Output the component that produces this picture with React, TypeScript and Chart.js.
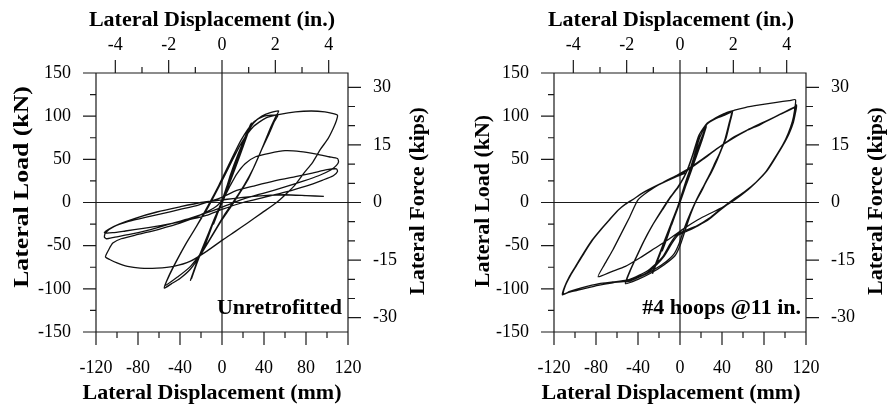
import React, { useEffect, useRef } from 'react';
import { Chart, registerables } from 'chart.js';

Chart.register(...registerables);

// ---- tick values ----
const MM_TICKS = [-120, -80, -40, 0, 40, 80, 120];
const MM_MINOR = [-100, -60, -20, 20, 60, 100];
const IN_TICKS = [-4, -2, 0, 2, 4];
const IN_MINOR = [-3, -1, 1, 3];
const KN_TICKS = [-150, -100, -50, 0, 50, 100, 150];
const KN_MINOR = [-125, -75, -25, 25, 75, 125];
const KIP_TICKS = [-30, -15, 0, 15, 30];
const KIP_MINOR = [-25, -20, -10, -5, 5, 10, 20, 25];

// ---- Unretrofitted specimen: [displacement mm, load kN] ----
const unretElastic: number[][] = [[0,0],[4,14],[8,27],[5,17],[1,3],[-4,-12],[-8,-25],[-5,-15],[-1,-2],[5,18],[11,38],[17,58],[13,44],[7,22],[1,2],[-6,-16],[-12,-36],[-18,-56],[-14,-42],[-8,-22],[-2,-4],[6,22],[13,46],[20,68],[27,90],[23,76],[16,52],[9,28],[2,6],[-6,-16],[-14,-40],[-22,-64],[-29,-88],[-25,-74],[-18,-52],[-10,-28],[-3,-8],[5,20],[12,44],[20,70],[28,92],[24,78],[17,54],[9,28],[1,4],[-7,-18],[-15,-42],[-23,-66],[-30,-90],[-26,-76],[-19,-54],[-11,-30],[-4,-10],[2,8]];
const unretMid: number[][] = [[8,32],[15,55],[22,75],[30,92],[38,100],[46,104],[54,106],[51,99],[46,86],[40,68],[33,48],[25,27],[17,11],[8,-6],[0,-20],[-10,-40],[-20,-60],[-30,-77],[-40,-88],[-48,-94],[-55,-99],[-51,-86],[-44,-69],[-35,-49],[-25,-29],[-13,-3],[-3,20],[7,45],[18,72],[30,93],[40,100],[53,101],[50,94],[45,80],[38,62],[30,40],[21,20],[12,3],[3,-13],[-8,-35],[-18,-55],[-30,-74],[-42,-86],[-54,-96],[-50,-84],[-43,-67],[-34,-47],[-24,-27],[-13,-5],[-3,18],[7,42],[18,68],[30,88],[42,98],[55,102]];
const unretLarge: number[][] = [[70,105],[85,106],[98,105],[106,103],[110,101],[109,95],[106,86],[101,74],[94,62],[86,46],[78,34],[70,21],[62,11],[52,0],[38,-12],[24,-24],[12,-34],[1,-43],[-14,-56],[-30,-68],[-46,-74],[-62,-76],[-78,-76],[-90,-74],[-100,-70],[-107,-66],[-111,-63],
[-108,-55],[-104,-47],[-96,-42],[-80,-37],[-60,-31],[-40,-24],[-20,-14],[-6,-5],[2,6],[8,20],[14,33],[22,45],[32,53],[45,57],[60,60],[75,59],[90,56],[102,53],[110,51],[111,47],[109,43],
[104,38],[92,31],[78,25],[60,18],[40,11],[20,4],[5,-3],[-10,-10],[-30,-18],[-50,-25],[-70,-32],[-88,-37],[-102,-40],[-110,-42],[-112,-40],
[-111,-35],[-103,-28],[-89,-22],[-72,-17],[-57,-13],[-40,-8],[-25,-4],[-12,1],[0,6],[14,14],[30,19],[50,25],[70,30],[86,34],[100,38],[109,39],[110,36],
[106,31],[96,26],[80,19],[60,12],[40,6],[20,0],[0,-8],[-15,-15],[-35,-21],[-55,-26],[-75,-30],[-92,-33],[-104,-35],[-112,-35],
[-108,-31],[-98,-25],[-82,-18],[-62,-11],[-40,-5],[-20,0],[0,3],[20,6],[40,8],[60,9],[80,8],[97,7]];

// ---- #4 hoops @11 in. specimen: [displacement mm, load kN] ----
const hoopElastic: number[][] = [[0,0],[4,14],[8,28],[5,18],[1,4],[-4,-12],[-8,-26],[-5,-16],[-1,-3],[5,18],[11,40],[16,58],[12,44],[6,22],[0,2],[-6,-18],[-12,-40],[-17,-56],[-13,-42],[-7,-22],[-1,-2],[6,24],[12,46],[18,66],[24,86],[21,74],[15,52],[8,28],[1,6],[-6,-18],[-13,-40],[-19,-60],[-26,-82],[-22,-68],[-16,-48],[-9,-26],[-2,-4],[6,26],[13,50],[19,70],[25,88],[21,72],[14,48],[7,24],[0,2],[-7,-20],[-14,-42],[-20,-62],[-26,-80],[-21,-64],[-14,-42],[-7,-20],[0,2]];
const hoopMid: number[][] = [[7,28],[13,52],[19,76],[26,91],[34,98],[42,103],[50,106],[48,95],[44,75],[39,60],[35,48],[30,35],[25,24],[20,12],[15,1],[10,-14],[5,-32],[0,-50],[-5,-62],[-15,-72],[-28,-82],[-40,-89],[-52,-94],[-48,-80],[-42,-64],[-35,-46],[-27,-28],[-18,-10],[-10,5],[-2,18],[6,35],[12,55],[18,78],[25,90],[34,97],[42,101],[49,104],[47,93],[43,74],[38,58],[33,45],[28,32],[22,18],[16,4],[10,-12],[4,-30],[-1,-48],[-6,-60],[-16,-71],[-28,-80],[-40,-87],[-51,-92],[-47,-78],[-41,-62],[-34,-44],[-26,-26],[-17,-9],[-9,6],[-1,19],[7,37],[13,58],[19,80],[26,92],[36,99],[48,105],[52,107]];
const hoopLarge: number[][] = [[62,110],[76,113],[92,116],[104,118],[110,119],[109,106],[107,94],[103,80],[98,67],[90,51],[82,36],[72,23],[63,13],[52,3],[40,-6],[28,-13],[17,-20],[4,-30],[-10,-42],[-24,-53],[-38,-64],[-52,-74],[-65,-80],[-78,-86],
[-72,-72],[-64,-55],[-56,-36],[-48,-17],[-40,3],[-30,13],[-18,22],[-4,31],[8,39],[22,51],[36,63],[50,75],[64,84],[76,91],[90,99],[100,105],[108,110],[111,112],
[110,104],[108,93],[104,80],[98,66],[91,52],[83,37],[73,24],[62,13],[50,3],[38,-8],[28,-18],[16,-27],[6,-32],[-3,-37],[-9,-47],[-16,-62],[-24,-72],[-32,-80],[-42,-86],[-51,-90],[-64,-92],[-77,-94],[-94,-99],[-105,-103],[-111,-106],
[-109,-96],[-104,-84],[-99,-74],[-91,-58],[-83,-43],[-75,-31],[-67,-20],[-59,-9],[-51,-1],[-43,5],[-36,11],[-20,21],[-4,30],[8,38],[22,50],[36,63],[50,74],[63,83],[76,90],[92,100],[104,107],[109,110],[111,113],
[110,106],[108,95],[104,81],[98,67],[91,52],[83,37],[73,24],[63,13],[51,3],[39,-8],[28,-19],[17,-27],[7,-33],[-2,-38],[-8,-48],[-15,-62],[-23,-73],[-31,-81],[-41,-87],[-51,-91],[-64,-93],[-78,-96],[-95,-101],[-106,-104],[-112,-107],
[-110,-98],[-105,-85],[-100,-75],[-92,-59],[-84,-44],[-76,-32],[-68,-21],[-60,-10],[-52,-2],[-44,4],[-37,10],[-21,20],[-5,29],[5,34]];

const MM_PER_IN = 25.4;
const KN_PER_KIP = 4.448;
const SERIF = '"Liberation Serif", "Times New Roman", serif';

const MAJOR = 13;
const MINOR = 6;

const decoPlugin = {
  id: 'deco',
  beforeDatasetsDraw(chart: any, _args: any, opts: any) {
    const { ctx, chartArea: a, scales } = chart;
    const sx = scales.x, sxi = scales.xIn, sy = scales.y, syk = scales.yK;
    ctx.save();
    ctx.strokeStyle = '#1a1a1a';
    ctx.lineWidth = 1.2;
    ctx.beginPath();
    ctx.rect(a.left, a.top, a.right - a.left, a.bottom - a.top);
    const seg = (x1: number, y1: number, x2: number, y2: number) => { ctx.moveTo(x1, y1); ctx.lineTo(x2, y2); };
    MM_TICKS.forEach(v => { const p = sx.getPixelForValue(v); seg(p, a.bottom, p, a.bottom + MAJOR); });
    MM_MINOR.forEach(v => { const p = sx.getPixelForValue(v); seg(p, a.bottom, p, a.bottom + MINOR); });
    IN_TICKS.forEach(v => { const p = sxi.getPixelForValue(v); seg(p, a.top - MAJOR, p, a.top); });
    IN_MINOR.forEach(v => { const p = sxi.getPixelForValue(v); seg(p, a.top - MINOR, p, a.top); });
    KN_TICKS.forEach(v => { const p = sy.getPixelForValue(v); seg(a.left - MAJOR, p, a.left, p); });
    KN_MINOR.forEach(v => { const p = sy.getPixelForValue(v); seg(a.left - MINOR, p, a.left, p); });
    KIP_TICKS.forEach(v => { const p = syk.getPixelForValue(v); seg(a.right, p, a.right + MAJOR, p); });
    KIP_MINOR.forEach(v => { const p = syk.getPixelForValue(v); seg(a.right, p, a.right + MINOR + 1, p); });
    const x0 = sx.getPixelForValue(0), y0 = sy.getPixelForValue(0);
    seg(x0, a.top - MAJOR, x0, a.bottom + MAJOR);
    seg(a.left - MAJOR, y0, a.right + MAJOR, y0);
    ctx.stroke();
    ctx.restore();
  },
  afterDraw(chart: any, _args: any, opts: any) {
    const { ctx } = chart;
    ctx.save();
    ctx.fillStyle = '#000';
    ctx.font = `bold 22px ${SERIF}`;
    ctx.textAlign = 'center';
    ctx.textBaseline = 'middle';
    ctx.fillText('Lateral Displacement (in.)', opts.titleX, 20);
    ctx.fillText('Lateral Displacement (mm)', opts.titleX, 393);
    const vtext = (t: string, x: number, y: number, s: number) => {
      ctx.save();
      ctx.translate(x, y);
      ctx.rotate(-Math.PI / 2);
      ctx.scale(s, 1);
      ctx.fillText(t, 0, 0);
      ctx.restore();
    };
    vtext('Lateral Load (kN)', opts.knX, opts.knY, opts.knScale);
    vtext('Lateral Force (kips)', opts.kipX, 201, 1);
    ctx.textAlign = 'right';
    ctx.fillText(opts.note, opts.noteX, 308);
    ctx.restore();
  },
};

function makeConfig(points: number[][], p: any) {
  const tickFont = { family: SERIF, size: 18 };
  const fmt = (v: any) => String(v);
  const fixed = (vals: number[]) => (s: any) => { s.ticks = vals.map(v => ({ value: v })); };
  return {
    type: 'scatter',
    data: {
      datasets: [{
        data: points.map(([x, y]) => ({ x, y })),
        showLine: true,
        borderColor: '#111',
        borderWidth: 1.3,
        pointRadius: 0,
        tension: 0.2,
        fill: false,
      }],
    },
    options: {
      animation: false,
      responsive: false,
      devicePixelRatio: 1,
      events: [],
      layout: { padding: 0 },
      plugins: {
        legend: { display: false },
        tooltip: { enabled: false },
        deco: p,
      },
      scales: {
        x: {
          type: 'linear', position: 'bottom', min: -120, max: 120,
          afterBuildTicks: fixed(MM_TICKS),
          ticks: { font: tickFont, color: '#000', padding: 25, maxRotation: 0, autoSkip: false, callback: fmt },
          grid: { display: false, drawTicks: false }, border: { display: false },
          afterFit: (s: any) => { s.height = 75; },
        },
        xIn: {
          type: 'linear', position: 'top', min: -120 / MM_PER_IN, max: 120 / MM_PER_IN,
          afterBuildTicks: fixed(IN_TICKS),
          ticks: { font: tickFont, color: '#000', padding: 17, maxRotation: 0, autoSkip: false, callback: fmt },
          grid: { display: false, drawTicks: false }, border: { display: false },
          afterFit: (s: any) => { s.height = 73; },
        },
        y: {
          type: 'linear', position: 'left', min: -150, max: 150,
          afterBuildTicks: fixed(KN_TICKS),
          ticks: { font: tickFont, color: '#000', padding: 25, autoSkip: false, callback: fmt },
          grid: { display: false, drawTicks: false }, border: { display: false },
          afterFit: (s: any) => { s.width = p.leftW; },
        },
        yK: {
          type: 'linear', position: 'right', min: -150 / KN_PER_KIP, max: 150 / KN_PER_KIP,
          afterBuildTicks: fixed(KIP_TICKS),
          ticks: { font: tickFont, color: '#000', padding: 25, autoSkip: false, callback: fmt },
          grid: { display: false, drawTicks: false }, border: { display: false },
          afterFit: (s: any) => { s.width = p.rightW; },
        },
      },
    },
    plugins: [decoPlugin],
  };
}

const unretPoints = [...unretElastic, ...unretMid, ...unretLarge];
const hoopPoints = [...hoopElastic, ...hoopMid, ...hoopLarge];

export default function App() {
  const leftRef = useRef<HTMLCanvasElement>(null);
  const rightRef = useRef<HTMLCanvasElement>(null);
  useEffect(() => {
    const c1 = new Chart(leftRef.current as any, makeConfig(unretPoints, {
      leftW: 96, rightW: 95, titleX: 212, knX: 22, knY: 187, knScale: 1.17, kipX: 418,
      note: 'Unretrofitted', noteX: 342,
    }) as any);
    const c2 = new Chart(rightRef.current as any, makeConfig(hoopPoints, {
      leftW: 111, rightW: 81, titleX: 228, knX: 40, knY: 201, knScale: 1, kipX: 433,
      note: '#4 hoops @11 in.', noteX: 358,
    }) as any);
    return () => { c1.destroy(); c2.destroy(); };
  }, []);
  return (
    <div style={{ position: 'fixed', left: 0, top: 0, width: 887, height: 407, background: '#fff' }}>
      <canvas ref={leftRef} width={443} height={407} style={{ position: 'absolute', left: 0, top: 0, width: 443, height: 407 }} />
      <canvas ref={rightRef} width={444} height={407} style={{ position: 'absolute', left: 443, top: 0, width: 444, height: 407 }} />
    </div>
  );
}
